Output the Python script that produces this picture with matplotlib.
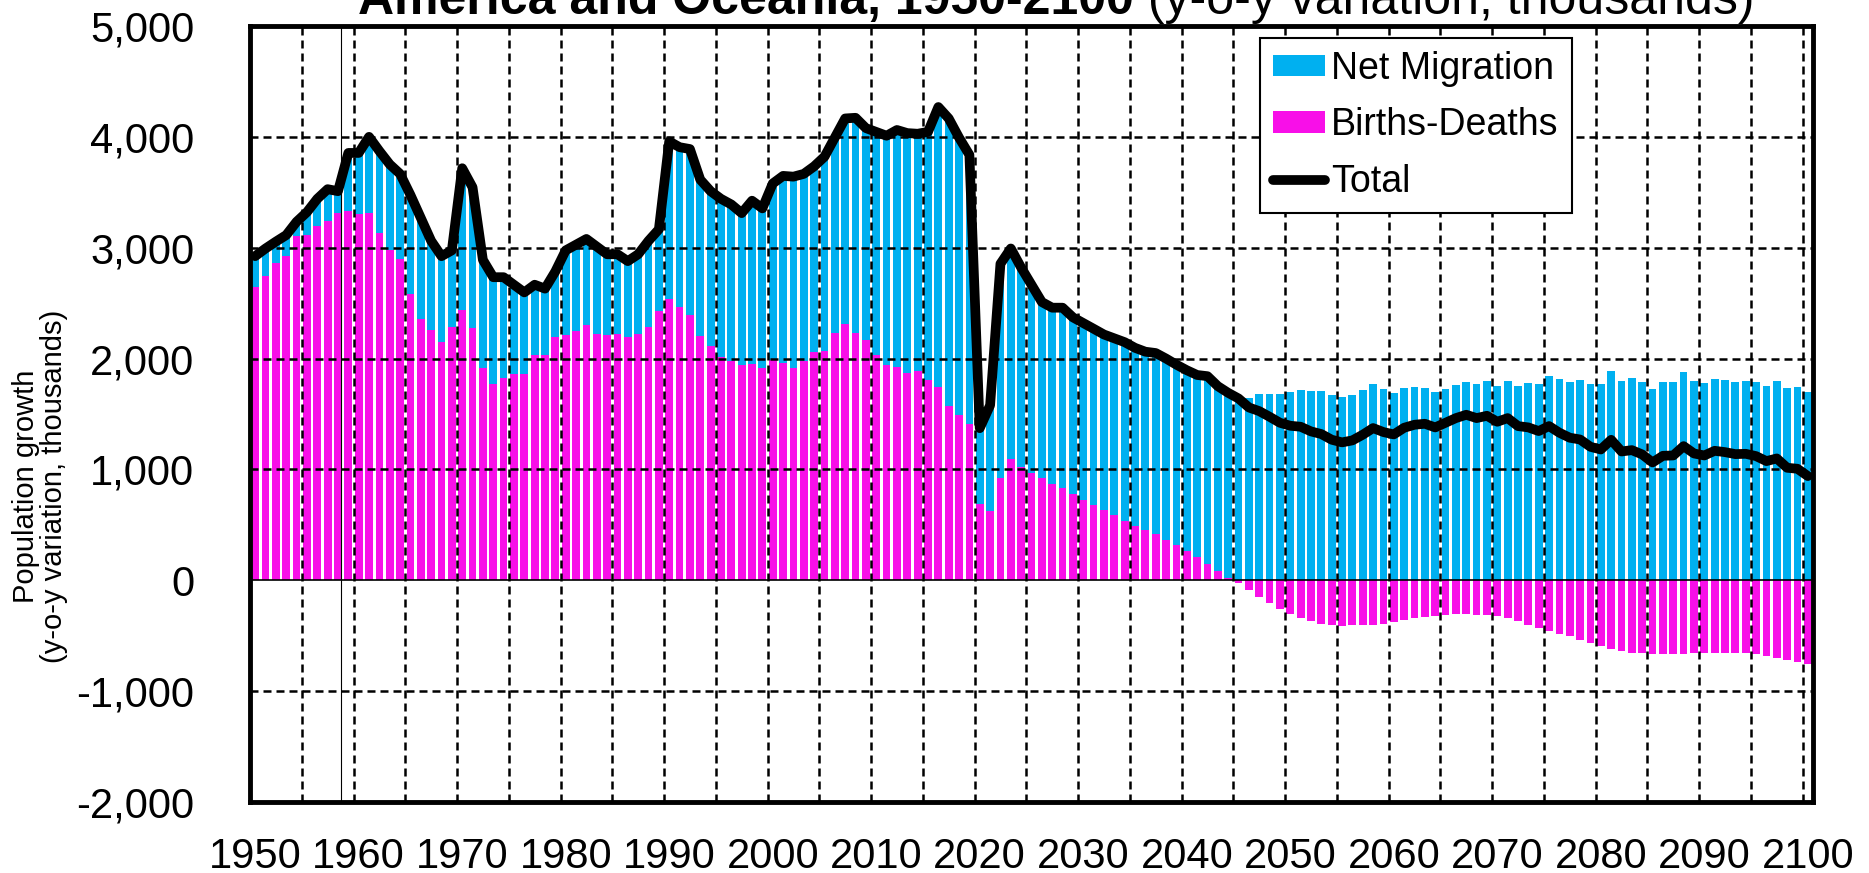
import numpy as np
import matplotlib.pyplot as plt
from matplotlib.ticker import FuncFormatter

# yearly population change, thousands
years = np.arange(1950, 2101)

births_deaths = [
    2648, 2745, 2866, 2928, 3107, 3114, 3200, 3245, 3317, 3331,
    3300, 3317, 3131, 2976, 2897, 2583, 2359, 2255, 2152, 2286,
    2434, 2276, 1914, 1769, 1821, 1859, 1859, 2034, 2031, 2193,
    2210, 2248, 2300, 2224, 2217, 2224, 2193, 2224, 2283, 2431,
    2541, 2462, 2393, 2200, 2117, 2010, 1976, 1941, 1948, 1917,
    1990, 1959, 1914, 1976, 2062, 2069, 2228, 2310, 2228, 2172,
    2034, 1941, 1924, 1866, 1886, 1803, 1745, 1572, 1493, 1414,
    690, 624, 924, 1097, 1021, 972, 924, 872, 828, 776,
    728, 676, 631, 586, 538, 493, 455, 414, 366, 321,
    262, 207, 144, 84, 24, -21, -87, -150, -207, -255,
    -306, -336, -366, -390, -405, -411, -405, -405, -399, -390,
    -375, -357, -339, -327, -321, -309, -303, -300, -309, -312,
    -321, -339, -366, -402, -426, -456, -486, -507, -538, -568,
    -592, -622, -637, -652, -658, -667, -667, -667, -667, -658,
    -652, -652, -652, -652, -658, -667, -682, -697, -721, -736,
    -757,
]

net_migration = [
    276, 248, 189, 186, 127, 207, 241, 283, 193, 524,
    555, 683, 741, 776, 769, 893, 910, 807, 772, 690,
    1283, 1269, 976, 965, 913, 807, 738, 632, 600, 593,
    766, 780, 779, 786, 724, 717, 686, 717, 779, 735,
    1418, 1445, 1497, 1414, 1393, 1431, 1414, 1371, 1476, 1438,
    1589, 1689, 1727, 1690, 1672, 1752, 1765, 1856, 1944, 1907,
    2011, 2069, 2138, 2168, 2142, 2242, 2524, 2594, 2500, 2424,
    682, 955, 1931, 1896, 1800, 1694, 1586, 1587, 1631, 1596,
    1593, 1593, 1586, 1597, 1610, 1604, 1607, 1636, 1634, 1624,
    1633, 1645, 1697, 1667, 1667, 1661, 1646, 1676, 1682, 1676,
    1700, 1721, 1709, 1709, 1673, 1655, 1667, 1718, 1772, 1727,
    1691, 1733, 1742, 1739, 1700, 1730, 1766, 1793, 1772, 1796,
    1751, 1802, 1757, 1781, 1772, 1847, 1817, 1793, 1808, 1772,
    1772, 1889, 1799, 1826, 1793, 1730, 1790, 1793, 1877, 1802,
    1778, 1820, 1808, 1790, 1799, 1787, 1757, 1796, 1736, 1742,
    1697,
]

bd = np.array(births_deaths)
nm = np.array(net_migration)
total = bd + nm

plt.rcParams['font.family'] = ['Liberation Sans', 'DejaVu Sans']

W, H = 1869, 873
fig = plt.figure(figsize=(W / 100, H / 100), dpi=100)
ax = fig.add_axes([250 / W, 1 - 802 / H, (1813 - 250) / W, (802 - 26) / H])

# stacked bars: migration sits on top of positive natural change
nm_bars = ax.bar(years, nm, width=0.75, bottom=np.maximum(bd, 0),
                 color='#00B0F0', label='Net Migration', zorder=1)
bd_bars = ax.bar(years, bd, width=0.75, color='#F80FE8',
                 label='Births-Deaths', zorder=1)
line, = ax.plot(years, total, color='black', lw=7, solid_joinstyle='round',
                solid_capstyle='round', label='Total', zorder=4)

# dashed grid drawn over the bars
dash = (0, (3.2, 2))
for y in range(-1000, 5000, 1000):
    if y != 0:
        ax.axhline(y, color='black', lw=1.8, ls=dash, zorder=2)
ax.axhline(0, color='black', lw=1.2, zorder=2)
for x in np.arange(1954.5, 2100, 5):
    ax.axvline(x, color='black', lw=1.8, ls=dash, zorder=2)
ax.axvline(1958.3, color='black', lw=0.8, zorder=3)

ax.set_xlim(1949.5, 2100.5)
ax.set_ylim(-2000, 5000)
ax.set_xticks(range(1950, 2101, 10))
ax.set_yticks(range(-2000, 5001, 1000))
ax.yaxis.set_major_formatter(FuncFormatter(lambda v, p: f"{v:,.0f}"))
ax.tick_params(axis='both', length=0, labelsize=30)
ax.tick_params(axis='y', pad=40)
ax.tick_params(axis='x', pad=25)
for s in ax.spines.values():
    s.set_linewidth(3.5)

leg = ax.legend(handles=[nm_bars, bd_bars, line], loc='upper left',
                bbox_to_anchor=(0.646, 0.985), fontsize=27, fancybox=False,
                edgecolor='black', framealpha=1, handlelength=1.4,
                handleheight=0.5, handletextpad=0.15, labelspacing=0.55,
                borderpad=0.35, borderaxespad=0)
leg.get_frame().set_linewidth(1.5)
leg.set_zorder(5)

# title in two weights
t1 = fig.text(358 / W, 1 - 14 / H, "America and Oceania, 1950-2100",
              fontsize=36, fontweight='bold', va='baseline')
fig.canvas.draw()
x_end = t1.get_window_extent().x1
fig.text(x_end / W, 1 - 14 / H, " (y-o-y variation, thousands)",
         fontsize=36, va='baseline')

fig.text(40 / W, 1 - 486 / H, "Population growth\n(y-o-y variation, thousands)",
         rotation=90, ha='center', va='center', fontsize=21,
         multialignment='center', linespacing=1.0)

fig.savefig('out.png', dpi=100)
